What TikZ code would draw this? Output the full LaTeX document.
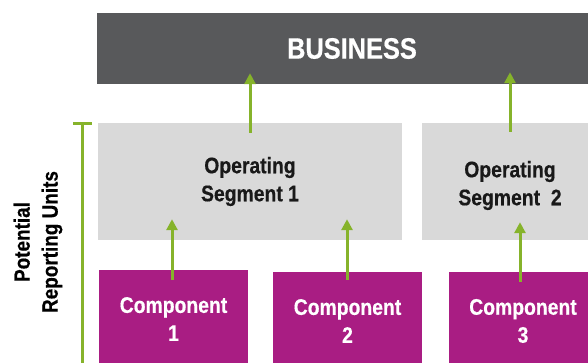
\documentclass[tikz,border=0pt]{standalone}
\usepackage{fontspec}
\setmainfont{Liberation Sans}[FakeStretch=0.86,BoldFeatures={FakeBold=0.5}]
\usetikzlibrary{arrows.meta,calc}
\definecolor{bizgray}{HTML}{58595B}
\definecolor{seggray}{HTML}{D9D9D9}
\definecolor{compmag}{HTML}{A91D83}
\definecolor{upgreen}{HTML}{86B32B}
\begin{document}
\begin{tikzpicture}[x=1pt,y=-1pt,
  bizbox/.style={rectangle,fill=bizgray,text=white,inner sep=0pt,
    font=\fontsize{29.5}{32}\selectfont\bfseries},
  segbox/.style={rectangle,fill=seggray,text=black!90,inner sep=0pt,align=center,
    font=\fontsize{22.5}{28}\selectfont\bfseries},
  segtext/.style={text=black!90,inner sep=0pt,align=center,
    font=\fontsize{22.5}{28}\selectfont\bfseries},
  compbox/.style={rectangle,fill=compmag,text=white,inner sep=0pt,align=center,
    font=\fontsize{22.5}{28}\selectfont\bfseries},
  uparrow/.style={draw=upgreen,line width=3pt,-{Triangle[width=11pt,length=11pt]}},
  bracket/.style={draw=upgreen,line width=3pt},
  sidelabel/.style={rotate=90,align=center,inner sep=0pt,
    font=\fontsize{22}{28}\selectfont\bfseries}
]
\useasboundingbox (0,0) rectangle (588,363);
\clip (0,0) rectangle (588,363);
\fill[white] (0,0) rectangle (588,363);

\node[bizbox,minimum width=510pt,minimum height=71pt] (business) at (352,48.5) {BUSINESS};

\node[segbox,minimum width=304pt,minimum height=117pt] (seg1) at (250,181.5) {Operating\\Segment 1};
\node[segbox,minimum width=176pt,minimum height=117pt,
  label={[segtext,yshift=-4pt]center:{Operating\\Segment\ \ 2}}] (seg2) at (510,181.5) {};

\node[compbox,minimum width=149pt,minimum height=98pt] (comp1) at (173.5,319) {Component\\1};
\node[compbox,minimum width=149pt,minimum height=98pt] (comp2) at (347.5,321) {Component\\2};
\node[compbox,minimum width=148pt,minimum height=98pt] (comp3) at (523,321) {Component\\3};

\coordinate (s1from) at ($(seg1.north)+(0,10)$);
\coordinate (s1to) at (s1from |- {$(business.south)+(0,-11)$});
\draw[uparrow] (s1from) -- (s1to);

\coordinate (s2from) at ($(seg2.north)+(0,9)$);
\coordinate (s2to) at (s2from |- {$(business.south)+(0,-12)$});
\draw[uparrow] (s2from) -- (s2to);

\coordinate (c1from) at ($(comp1.north)+(-1.5,10)$);
\coordinate (c1to) at (c1from |- {$(seg1.south)+(0,-21)$});
\draw[uparrow] (c1from) -- (c1to);

\coordinate (c2from) at ($(comp2.north)+(-0.5,8)$);
\coordinate (c2to) at (c2from |- {$(seg1.south)+(0,-21)$});
\draw[uparrow] (c2from) -- (c2to);

\coordinate (c3from) at ($(comp3.north)+(-3,10)$);
\coordinate (c3to) at (c3from |- {$(seg2.south)+(0,-18)$});
\draw[uparrow] (c3from) -- (c3to);

\coordinate (brtop) at (82,124);
\coordinate (brbot) at (82,370);
\coordinate (tickl) at (73,124);
\coordinate (tickr) at (92,124);
\draw[bracket] (brtop) -- (brbot);
\draw[bracket] (tickl) -- (tickr);

\node[sidelabel] (units) at (38,242) {Potential\\Reporting Units};
\end{tikzpicture}
\end{document}
